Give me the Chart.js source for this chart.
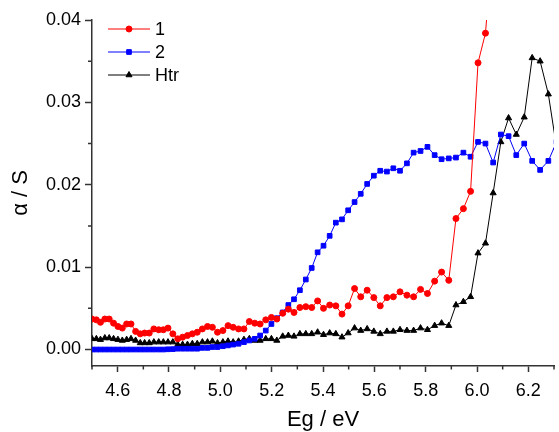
<!DOCTYPE html>
<html>
<head>
<meta charset="utf-8">
<script src="https://cdn.jsdelivr.net/npm/chart.js@4/dist/chart.umd.min.js"></script>
<style>
  body { margin: 0; background: #fff; }
</style>
</head>
<body>
<canvas id="absChart" width="559" height="432"></canvas>
<script>
// energy axis (eV), shared by all three curves
const energies = [
  4.500, 4.517, 4.533, 4.550, 4.567, 4.584, 4.601, 4.618, 4.635, 4.652,
  4.670, 4.688, 4.705, 4.723, 4.741, 4.760, 4.778, 4.796, 4.815, 4.834,
  4.853, 4.872, 4.891, 4.910, 4.930, 4.950, 4.969, 4.989, 5.010, 5.030,
  5.050, 5.071, 5.092, 5.113, 5.134, 5.155, 5.177, 5.199, 5.220, 5.243,
  5.265, 5.287, 5.310, 5.333, 5.356, 5.379, 5.402, 5.426, 5.450, 5.474,
  5.498, 5.523, 5.547, 5.572, 5.598, 5.623, 5.649, 5.674, 5.700, 5.727,
  5.753, 5.780, 5.807, 5.835, 5.862, 5.890, 5.918, 5.947, 5.975, 6.004,
  6.033, 6.063, 6.093, 6.123, 6.153, 6.184, 6.215, 6.246, 6.278, 6.310
];

// series "1" (red) - goes off the top after 6.03 eV
const sample1 = [
  0.0037, 0.0036, 0.0033, 0.0037, 0.0037, 0.0032, 0.0028, 0.0026, 0.0031, 0.0031,
  0.0022, 0.0019, 0.0020, 0.0020, 0.0025, 0.0024, 0.0024, 0.0026, 0.0019, 0.0013,
  0.0015, 0.0017, 0.0019, 0.0021, 0.0025, 0.0028, 0.0027, 0.0021, 0.0023, 0.0029,
  0.0027, 0.0025, 0.0025, 0.0034, 0.0032, 0.0031, 0.0036, 0.0039, 0.0037, 0.0044,
  0.0049, 0.0045, 0.0051, 0.0052, 0.0051, 0.0059, 0.0050, 0.0054, 0.0053, 0.0043,
  0.0053, 0.0074, 0.0064, 0.0072, 0.0063, 0.0053, 0.0063, 0.0064, 0.0070, 0.0066,
  0.0064, 0.0073, 0.0068, 0.0083, 0.0094, 0.0084, 0.0159, 0.0171, 0.0192, 0.0348,
  0.0384, 0.0500
];

// series "2" (blue)
const sample2 = [
  0, 0, 0, 0, 0, 0, 0, 0, 0, 0,
  0, 0, 0, 0, 0, 0, 0, 0.00003, 0.00005, 0.0001,
  0.0001, 0.0001, 0.0001, 0.0001, 0.0002, 0.0002, 0.0003, 0.0003, 0.0004, 0.0005,
  0.0006, 0.0007, 0.0009, 0.0011, 0.0013, 0.0017, 0.0023, 0.0031, 0.0038, 0.0045,
  0.0054, 0.0061, 0.0072, 0.0085, 0.0099, 0.0118, 0.0126, 0.0138, 0.0154, 0.0158,
  0.0169, 0.0179, 0.0189, 0.0201, 0.0211, 0.0217, 0.0216, 0.0220, 0.0217, 0.0226,
  0.0239, 0.0241, 0.0246, 0.0236, 0.0231, 0.0232, 0.0233, 0.0239, 0.0234, 0.0252,
  0.0250, 0.0227, 0.0261, 0.0259, 0.0236, 0.0250, 0.0229, 0.0218, 0.0229, 0.0252
];

// series "Htr" (black)
const htr = [
  0.0013, 0.0013, 0.0012, 0.0014, 0.0014, 0.0013, 0.0012, 0.0011, 0.0012, 0.0013,
  0.0011, 0.0008, 0.0008, 0.0008, 0.0009, 0.0009, 0.0009, 0.0009, 0.0009, 0.0006,
  0.0006, 0.0006, 0.0007, 0.0007, 0.0009, 0.0009, 0.0010, 0.0008, 0.0009, 0.0010,
  0.0009, 0.0010, 0.0012, 0.0013, 0.0011, 0.0011, 0.0013, 0.0013, 0.0011, 0.0016,
  0.0017, 0.0016, 0.0019, 0.0019, 0.0019, 0.0021, 0.0018, 0.0020, 0.0019, 0.0015,
  0.0020, 0.0026, 0.0023, 0.0025, 0.0022, 0.0019, 0.0022, 0.0022, 0.0024, 0.0023,
  0.0023, 0.0026, 0.0024, 0.0029, 0.0032, 0.0029, 0.0054, 0.0058, 0.0064, 0.0117,
  0.0129, 0.0190, 0.0252, 0.0281, 0.0261, 0.0282, 0.0354, 0.0350, 0.0310, 0.0245
];

const seriesNames = ['1', '2', 'Htr'];
const xTicks = [4.6, 4.8, 5.0, 5.2, 5.4, 5.6, 5.8, 6.0, 6.2];
const xMinorTicks = [4.5, 4.7, 4.9, 5.1, 5.3, 5.5, 5.7, 5.9, 6.1, 6.3];
const yTicks = [0, 0.01, 0.02, 0.03, 0.04];
const yMinorTicks = [0.005, 0.015, 0.025, 0.035];

const axisColor = '#333';
const fontFamily = '"Liberation Sans", Arial, sans-serif';

function toPoints(values) {
  return values.map((v, i) => ({ x: energies[i], y: v }));
}

// short ticks between the labelled ones
const minorTicks = {
  id: 'minorTicks',
  afterDraw(chart) {
    const { ctx, scales } = chart;
    const xs = scales.x, ys = scales.y;
    ctx.save();
    ctx.strokeStyle = axisColor;
    ctx.lineWidth = 1.5;
    ctx.beginPath();
    xMinorTicks.forEach(v => {
      const px = xs.getPixelForValue(v);
      ctx.moveTo(px, xs.top);
      ctx.lineTo(px, xs.top + 3.5);
    });
    yMinorTicks.forEach(v => {
      const py = ys.getPixelForValue(v);
      ctx.moveTo(ys.right, py);
      ctx.lineTo(ys.right - 4, py);
    });
    ctx.stroke();
    ctx.restore();
  }
};

// legend drawn as line + marker like the original plot
const lineLegend = {
  id: 'lineLegend',
  afterDraw(chart) {
    const ctx = chart.ctx;
    const rows = [29, 52, 75];
    ctx.save();
    chart.data.datasets.forEach((ds, i) => {
      const y = rows[i];
      ctx.strokeStyle = ds.borderColor;
      ctx.lineWidth = 1;
      ctx.beginPath();
      ctx.moveTo(108, y);
      ctx.lineTo(150, y);
      ctx.stroke();
      ctx.fillStyle = ds.pointBackgroundColor;
      ctx.strokeStyle = ds.pointBorderColor;
      Chart.helpers.drawPoint(ctx, {
        pointStyle: ds.pointStyle,
        radius: ds.pointRadius,
        borderWidth: ds.pointBorderWidth,
        rotation: 0
      }, 129, y);
      ctx.fillStyle = '#000';
      ctx.font = '18px ' + fontFamily;
      ctx.textBaseline = 'middle';
      ctx.fillText(ds.label, 155, y + 1);
    });
    ctx.restore();
  }
};

const ctx = document.getElementById('absChart').getContext('2d');
const absChart = new Chart(ctx, {
  type: 'line',
  data: {
    datasets: [
      {
        label: seriesNames[0],
        data: toPoints(sample1),
        borderColor: '#ff0000',
        backgroundColor: '#ff0000',
        pointBackgroundColor: '#ff0000',
        pointBorderColor: '#ff0000',
        pointStyle: 'circle',
        pointRadius: 3,
        pointBorderWidth: 1,
        borderWidth: 1
      },
      {
        label: seriesNames[1],
        data: toPoints(sample2),
        borderColor: '#0000ff',
        backgroundColor: '#0000ff',
        pointBackgroundColor: '#0000ff',
        pointBorderColor: '#0000ff',
        pointStyle: 'rect',
        pointRadius: 3.3,
        pointBorderWidth: 1,
        borderWidth: 1
      },
      {
        label: seriesNames[2],
        data: toPoints(htr),
        borderColor: '#000000',
        backgroundColor: '#000000',
        pointBackgroundColor: '#000000',
        pointBorderColor: '#000000',
        pointStyle: 'triangle',
        pointRadius: 3.5,
        pointBorderWidth: 1,
        borderWidth: 1
      }
    ]
  },
  options: {
    responsive: false,
    animation: false,
    devicePixelRatio: 1,
    layout: { padding: { top: 20, right: 0, left: 0, bottom: 0 } },
    plugins: {
      legend: { display: false },
      tooltip: { enabled: false }
    },
    scales: {
      x: {
        type: 'linear',
        min: 4.5,
        max: 6.3,
        afterFit: s => { s.height = 66; },
        afterBuildTicks: s => { s.ticks = xTicks.map(v => ({ value: v })); },
        grid: { drawOnChartArea: false, tickLength: 6, tickWidth: 1.5, tickColor: axisColor },
        border: { color: axisColor, width: 1.5 },
        ticks: {
          color: '#000',
          padding: 8,
          maxRotation: 0,
          font: { family: fontFamily, size: 18 },
          callback: v => Number(v).toFixed(1)
        },
        title: {
          display: true,
          text: 'Eg / eV',
          color: '#000',
          font: { family: fontFamily, size: 22 },
          padding: { top: 0, bottom: -1 }
        }
      },
      y: {
        min: -0.002,
        max: 0.04,
        afterFit: s => { s.width = 92; },
        afterBuildTicks: s => { s.ticks = yTicks.map(v => ({ value: v })); },
        grid: { drawOnChartArea: false, tickLength: 7, tickWidth: 1.5, tickColor: axisColor },
        border: { color: axisColor, width: 1.5 },
        ticks: {
          color: '#000',
          padding: 4,
          font: { family: fontFamily, size: 18 },
          callback: v => Number(v).toFixed(2)
        },
        title: {
          display: true,
          text: 'α / S',
          color: '#000',
          font: { family: fontFamily, size: 22 },
          padding: { top: 8, bottom: 0 }
        }
      }
    }
  },
  plugins: [minorTicks, lineLegend]
});
</script>
</body>
</html>
